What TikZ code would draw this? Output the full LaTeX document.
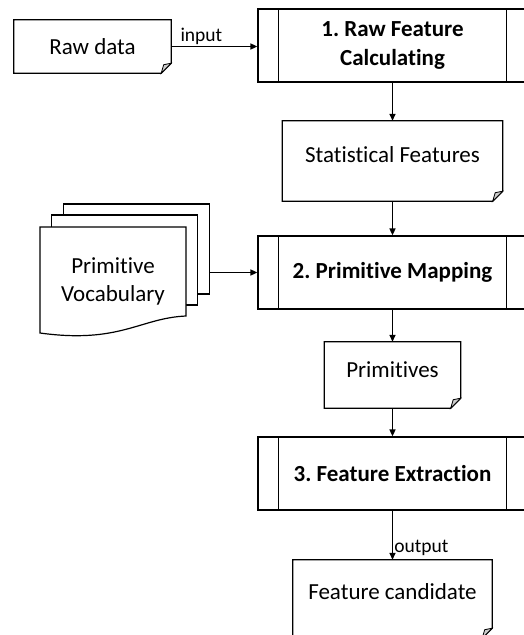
\documentclass[tikz,border=0pt]{standalone}
\usepackage{fontspec}
\setmainfont{Carlito}[Ligatures=NoCommon]
\usetikzlibrary{arrows.meta}
\frenchspacing
\tikzset{
  box/.style={draw=none,minimum width=#1,inner sep=0pt,align=center,font=\fontsize{23}{29}\selectfont},
  process/.style={draw,line width=1.2pt,fill=white,minimum width=269pt,minimum height=73pt,inner sep=0pt,align=center,font=\fontsize{23}{29}\selectfont\bfseries},
  page/.style={draw,line width=1.2pt,fill=white,minimum width=146pt,minimum height=90pt,inner sep=0pt},
  flow/.style={->,line width=1.5pt},
  lbl/.style={font=\fontsize{19.5}{23}\selectfont,inner sep=1pt}
}
\begin{document}
\begin{tikzpicture}[x=1pt,y=-1pt,>={Triangle[length=7pt,width=6pt]}]
\clip (0,0) rectangle (524,635);
\fill[white] (0,0) rectangle (524,635);
% process boxes
\node[process] (box1) at (392.5,45.5) {1. Raw Feature\\Calculating};
\node[process] (box2) at (392.5,272.5) {2. Primitive Mapping};
\node[process] (box3) at (392.5,473.5) {3. Feature Extraction};
\foreach \b in {box1,box2,box3} {
  \draw[line width=1.2pt] ([xshift=21pt]\b.north west) -- ([xshift=21pt]\b.south west);
  \draw[line width=1.2pt] ([xshift=-21pt]\b.north east) -- ([xshift=-21pt]\b.south east);
}
% documents
\node[box=157pt,minimum height=53pt] (raw) at (92.5,46.5) {Raw data};
\node[box=220pt,minimum height=80pt,text depth=12pt] (stat) at (392.5,161) {Statistical Features};
\node[box=136pt,minimum height=66pt,text depth=10pt] (prim) at (392.5,375) {Primitives};
\node[box=199pt,minimum height=78pt,text depth=14pt] (cand) at (392.5,599) {Feature candidate};
\foreach \d in {raw,stat,prim,cand} {
  \draw[line width=1.2pt] (\d.north west) -- (\d.north east) -- ([yshift=10pt]\d.south east)
    -- ([xshift=-10pt]\d.south east) -- (\d.south west) -- cycle;
  \filldraw[fill=gray!40,line width=0.8pt] ([yshift=10pt]\d.south east) -- ([xshift=-10pt]\d.south east)
    -- ([xshift=-7.5pt,yshift=8.5pt]\d.south east) -- cycle;
}
% vocabulary stack
\node[page] (voc3) at (136.5,249) {};
\node[page] (voc2) at (124.5,260) {};
\filldraw[fill=white,line width=1.2pt] (40,227) -- (186,227) -- (186,316)
  .. controls (140,318) and (120,344) .. (40,333) -- cycle;
\node[box=146pt,font=\fontsize{23}{28}\selectfont] (vocab) at (113,281) {Primitive\\Vocabulary};
% connectors
\draw[flow] (raw.east) -- (raw.east -| box1.west) node[lbl,above,pos=0.35] {input};
\draw[flow] (box1.south) -- (stat.north);
\draw[flow] (stat.south) -- (box2.north);
\draw[flow] (box2.west -| voc3.east) -- (box2.west);
\draw[flow] (box2.south) -- (prim.north);
\draw[flow] (prim.south) -- (box3.north);
\draw[flow] (box3.south) -- (cand.north) node[lbl,right,pos=0.76] {output};
\end{tikzpicture}
\end{document}
